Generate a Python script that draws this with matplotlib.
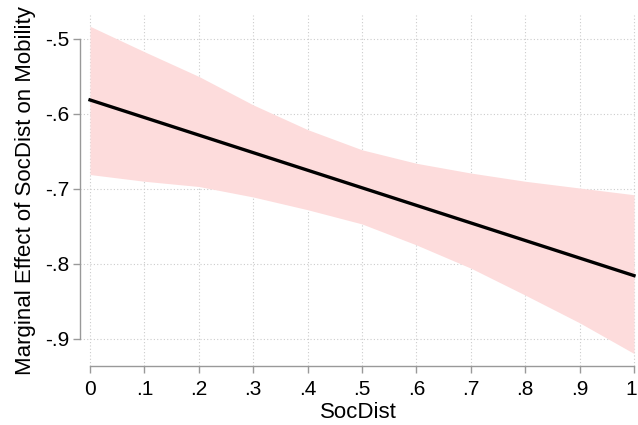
import matplotlib
matplotlib.use("Agg")
import matplotlib.pyplot as plt
import matplotlib.transforms as mtransforms

plt.rcParams['font.family'] = ['Liberation Sans', 'DejaVu Sans']

socdist = [0.0, 0.1, 0.2, 0.3, 0.4, 0.5, 0.6, 0.7, 0.8, 0.9, 1.0]
effect_start, effect_end = -0.5814, -0.816
effect = [effect_start + (effect_end - effect_start) * x for x in socdist]
ci_upper = [-0.483, -0.517, -0.550, -0.588, -0.621, -0.648, -0.666, -0.679, -0.690, -0.699, -0.708]
ci_lower = [-0.681, -0.690, -0.697, -0.711, -0.728, -0.747, -0.775, -0.806, -0.842, -0.879, -0.920]

xticks = [0, .1, .2, .3, .4, .5, .6, .7, .8, .9, 1]
xticklabels = ['0', '.1', '.2', '.3', '.4', '.5', '.6', '.7', '.8', '.9', '1']
yticks = [-.5, -.6, -.7, -.8, -.9]
yticklabels = ['-.5', '-.6', '-.7', '-.8', '-.9']

fig = plt.figure(figsize=(6.38, 4.25), dpi=100)
ax = fig.add_axes([80/638, 59/425, 556/638, 351/425])

ax.fill_between(socdist, ci_lower, ci_upper, color='#fddcdc', linewidth=0, zorder=2)
ax.plot(socdist, effect, color='black', linewidth=2.4, zorder=3)

ax.set_xlim(-10/544, 1 + 2/544)
ax.set_ylim(-0.9 - 27.5/749.5, -0.5 + 24/749.5)

ax.set_xticks(xticks)
ax.set_xticklabels(xticklabels)
ax.set_yticks(yticks)
ax.set_yticklabels(yticklabels)

ax.grid(True, color='#cccccc', linestyle=(0, (1, 2)), linewidth=0.8, zorder=1)
ax.set_axisbelow(True)

for s in ['top', 'right']:
    ax.spines[s].set_visible(False)
ax.spines['left'].set_bounds(-0.9, -0.5)
ax.spines['bottom'].set_bounds(0, 1)
for s in ['left', 'bottom']:
    ax.spines[s].set_color('#999999')
    ax.spines[s].set_linewidth(1.0)

ax.tick_params(axis='both', colors='#999999', length=5, width=1.0, labelcolor='black', labelsize=15)
ax.tick_params(axis='y', pad=3)
ax.tick_params(axis='x', pad=5)

# keep the last x tick label inside the figure
last = ax.get_xticklabels()[-1]
last.set_transform(last.get_transform() + mtransforms.ScaledTranslation(-3/100, 0, fig.dpi_scale_trans))

ax.set_xlabel('SocDist', fontsize=16, labelpad=2)
ax.set_ylabel('Marginal Effect of SocDist on Mobility', fontsize=16, labelpad=6)

fig.savefig('out.png', dpi=100)
